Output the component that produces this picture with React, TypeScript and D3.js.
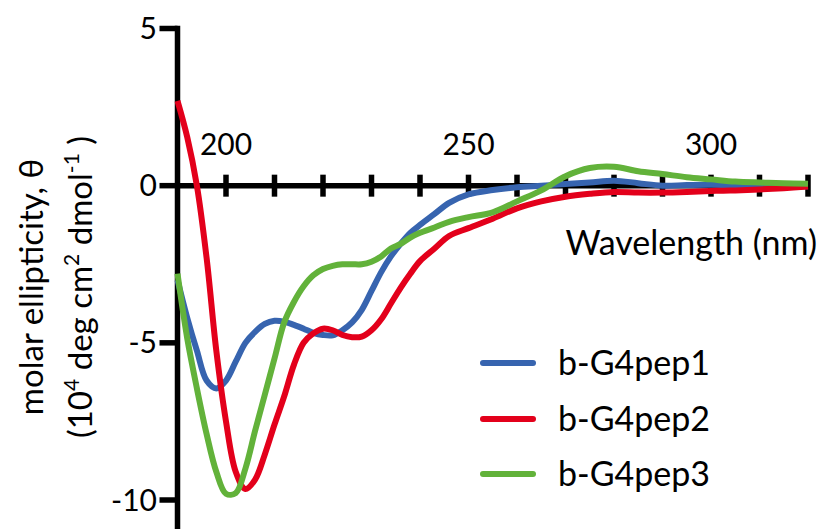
import { useEffect, useRef } from "react";
import * as d3 from "d3";

const wavelength = [190, 192, 194, 196, 198, 200, 202, 204, 206, 208, 210, 212, 214, 216, 218, 220, 222, 224, 226, 228, 230, 232, 234, 236, 238, 240, 243, 246, 250, 255, 260, 265, 270, 275, 280, 285, 290, 295, 300, 305, 310, 315, 320];

const pep1 = [-3.0, -4.2, -5.25, -6.2, -6.45, -6.2, -5.6, -5.0, -4.65, -4.4, -4.3, -4.33, -4.43, -4.55, -4.68, -4.75, -4.76, -4.6, -4.35, -3.95, -3.35, -2.75, -2.25, -1.85, -1.5, -1.25, -0.9, -0.55, -0.28, -0.14, -0.05, 0.0, 0.05, 0.1, 0.16, 0.08, 0.0, 0.02, 0.03, 0.0, -0.05, -0.04, -0.02];
const pep2 = [2.7, 1.55, 0.0, -2.3, -5.25, -7.5, -9.1, -9.65, -9.35, -8.55, -7.6, -6.7, -5.7, -5.0, -4.7, -4.55, -4.6, -4.75, -4.82, -4.8, -4.6, -4.25, -3.75, -3.25, -2.8, -2.4, -2.0, -1.6, -1.35, -1.05, -0.72, -0.5, -0.35, -0.26, -0.2, -0.22, -0.22, -0.2, -0.17, -0.15, -0.12, -0.08, -0.03];
const pep3 = [-2.8, -4.85, -6.45, -7.9, -9.1, -9.8, -9.78, -9.0, -7.8, -6.65, -5.5, -4.35, -3.7, -3.2, -2.85, -2.65, -2.55, -2.5, -2.5, -2.5, -2.42, -2.25, -2.0, -1.85, -1.65, -1.5, -1.33, -1.15, -1.0, -0.85, -0.5, -0.15, 0.3, 0.56, 0.6, 0.46, 0.37, 0.27, 0.2, 0.13, 0.1, 0.08, 0.06];

const seriesNames = ["b-G4pep1", "b-G4pep2", "b-G4pep3"];
const seriesColors = ["#3764af", "#e3001b", "#62b23a"];
const xTickValues = d3.range(200, 321, 10);
const xTickLabels = [200, 250, 300];
const yTickValues = [5, 0, -5, -10];

export default function App() {
    const ref = useRef<SVGSVGElement>(null);

    useEffect(() => {
        const height = 529;
        const font = "Lato, 'Open Sans', sans-serif";
        const svg = d3.select(ref.current);
        svg.selectAll("*").remove();

        const x = d3.scaleLinear().domain([190, 320]).range([177.5, 808]);
        const y = d3.scaleLinear().domain([-10, 5]).range([500, 28.5]);

        const line = d3.line<[number, number]>()
            .x(d => x(d[0]))
            .y(d => y(d[1]))
            .curve(d3.curveCatmullRom.alpha(0.5));

        // x axis sits on zero
        svg.append("line")
            .attr("x1", x(190)).attr("x2", x(320) + 2)
            .attr("y1", y(0)).attr("y2", y(0))
            .attr("stroke", "#000").attr("stroke-width", 5.5);
        svg.selectAll(".xtick")
            .data(xTickValues)
            .enter()
            .append("line")
            .attr("x1", d => x(d)).attr("x2", d => x(d))
            .attr("y1", y(0) - 11).attr("y2", y(0) + 11)
            .attr("stroke", "#000").attr("stroke-width", 5.5);
        svg.selectAll(".xlab")
            .data(xTickLabels)
            .enter()
            .append("text")
            .attr("x", d => x(d))
            .attr("y", 155)
            .attr("text-anchor", "middle")
            .style("font-family", font)
            .style("font-size", "30px")
            .text(d => d);

        // y axis
        svg.append("line")
            .attr("x1", x(190)).attr("x2", x(190))
            .attr("y1", y(5) - 2.75).attr("y2", height)
            .attr("stroke", "#000").attr("stroke-width", 5.5);
        svg.selectAll(".ytick")
            .data(yTickValues)
            .enter()
            .append("line")
            .attr("x1", x(190) - 18).attr("x2", x(190))
            .attr("y1", d => y(d)).attr("y2", d => y(d))
            .attr("stroke", "#000").attr("stroke-width", 5.5);
        svg.selectAll(".ylab")
            .data(yTickValues)
            .enter()
            .append("text")
            .attr("x", 157)
            .attr("y", d => y(d) + 10.5)
            .attr("text-anchor", "end")
            .style("font-family", font)
            .style("font-size", "30px")
            .text(d => d);

        [pep1, pep2, pep3].forEach((vals, i) => {
            svg.append("path")
                .datum(wavelength.map((w, j) => [w, vals[j]] as [number, number]))
                .attr("d", line)
                .attr("fill", "none")
                .attr("stroke", seriesColors[i])
                .attr("stroke-width", 6)
                .attr("stroke-linejoin", "round");
        });

        svg.append("text")
            .attr("x", 817)
            .attr("y", 255)
            .attr("text-anchor", "end")
            .style("font-family", font)
            .style("font-size", "34px")
            .text("Wavelength (nm)");

        svg.append("text")
            .attr("transform", "translate(43,287) rotate(-90)")
            .attr("text-anchor", "middle")
            .style("font-family", font)
            .style("font-size", "33px")
            .text("molar ellipticity, θ");

        const t2 = svg.append("text")
            .attr("transform", "translate(92,287) rotate(-90)")
            .attr("text-anchor", "middle")
            .style("font-family", font)
            .style("font-size", "33px");
        t2.append("tspan").text("(10");
        t2.append("tspan").attr("dy", -13).style("font-size", "21px").text("4");
        t2.append("tspan").attr("dy", 13).text(" deg cm");
        t2.append("tspan").attr("dy", -13).style("font-size", "21px").text("2");
        t2.append("tspan").attr("dy", 13).text(" dmol");
        t2.append("tspan").attr("dy", -13).style("font-size", "21px").text("-1");
        t2.append("tspan").attr("dy", 13).text("  )");

        // legend
        const legendY = [363, 419, 474];
        seriesNames.forEach((name, i) => {
            svg.append("line")
                .attr("x1", 483).attr("x2", 533)
                .attr("y1", legendY[i]).attr("y2", legendY[i])
                .attr("stroke", seriesColors[i])
                .attr("stroke-width", 6)
                .attr("stroke-linecap", "round");
            svg.append("text")
                .attr("x", 558)
                .attr("y", legendY[i] + 12)
                .style("font-family", font)
                .style("font-size", "34px")
                .text(name);
        });
    }, []);

    return (
        <svg ref={ref} width={827} height={529}
            style={{ position: "absolute", left: 0, top: 0, background: "#fff" }} />
    );
}
